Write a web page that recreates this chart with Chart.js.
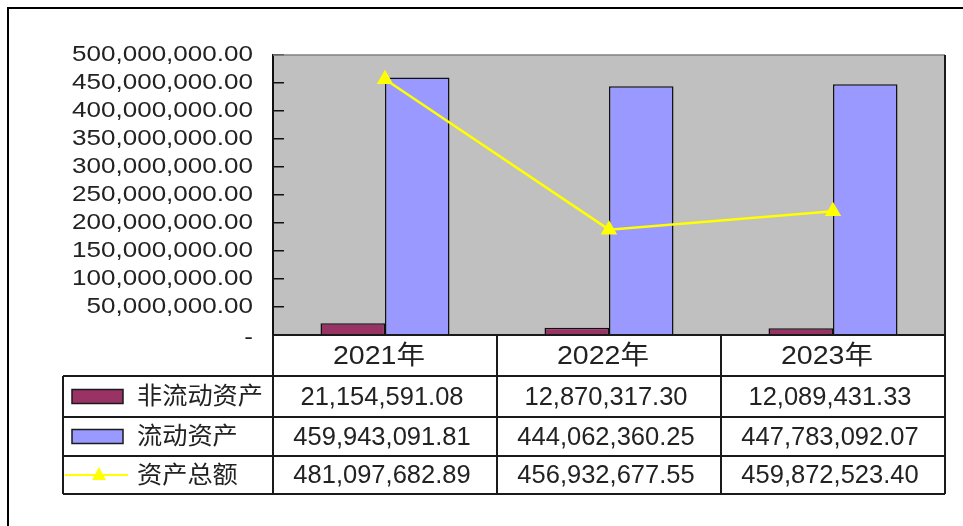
<!DOCTYPE html>
<html>
<head>
<meta charset="utf-8">
<script src="https://cdn.jsdelivr.net/npm/chart.js@4.4.1/dist/chart.umd.min.js"></script>
<style>
html, body { margin: 0; padding: 0; background: #fff; }
#wrap { position: relative; width: 963px; height: 526px; overflow: hidden; }
#frame { position: absolute; left: 7px; top: 7px; width: 1000px; height: 600px; border-left: 2px solid #000; border-top: 2px solid #000; }
canvas { position: absolute; left: 0; top: 0; }
</style>
</head>
<body>
<div id="wrap">
  <div id="frame"></div>
  <canvas id="assetChart" width="963" height="526"></canvas>
</div>
<script>
const years = ["2021年", "2022年", "2023年"];
const seriesNames = ["非流动资产", "流动资产", "资产总额"];
const nonCurrent = [21154591.08, 12870317.30, 12089431.33];
const current = [459943091.81, 444062360.25, 447783092.07];
const total = [481097682.89, 456932677.55, 459872523.40];
// left axis ticks, and the hidden axis the total line is drawn on
const leftMax = 500000000;
const leftStep = 50000000;
const totalMin = 440000000;
const totalMax = 485000000;

const colors = ["#993366", "#9999ff", "#ffff00"];
const numFont = '"Liberation Sans", Arial, sans-serif';
const cjkFont = '"Liberation Sans", "Noto Sans CJK SC", sans-serif';

function fmt(v){
    return Number(v).toLocaleString("en-US", {minimumFractionDigits: 2, maximumFractionDigits: 2});
}
function axisLabel(v){
    return v === 0 ? "-" : fmt(v);
}

const ctx = document.getElementById("assetChart");

// the excel picture has its text a bit stretched sideways
function wideText(c, text, x, y, sx){
    c.save();
    c.translate(x, y);
    c.scale(sx, 1);
    c.fillText(text, 0, 0);
    c.restore();
}

const plotAndTable = {
    id: "plotAndTable",
    beforeDraw(chart){
        const c = chart.ctx;
        const a = chart.chartArea;
        c.save();
        c.fillStyle = "#c0c0c0";
        c.fillRect(a.left, a.top, a.right - a.left, a.bottom - a.top);
        c.restore();
    },
    afterDraw(chart){
        const c = chart.ctx;
        const a = chart.chartArea;
        const x = chart.scales.x;
        const y = chart.scales.y;
        const colW = (a.right - a.left) / years.length;
        const rows = [a.bottom, a.bottom + 41, a.bottom + 82, a.bottom + 121, a.bottom + 159];
        const legendLeft = 63;

        c.save();
        // y labels
        c.fillStyle = "#222";
        c.textBaseline = "middle";
        c.textAlign = "right";
        c.font = "22px " + numFont;
        const ySx = 181 / c.measureText(axisLabel(leftMax)).width;
        y.ticks.forEach(t => {
            const py = y.getPixelForValue(t.value);
            wideText(c, axisLabel(t.value), a.left - 20, t.value === 0 ? py + 3 : py, ySx);
        });

        // plot frame
        c.strokeStyle = "#808080";
        c.lineWidth = 1.5;
        c.beginPath();
        c.moveTo(a.left, a.top);
        c.lineTo(a.right, a.top);
        c.stroke();
        c.strokeStyle = "#1a1a1a";
        c.lineWidth = 2;
        c.beginPath();
        c.moveTo(a.right, a.top);
        c.lineTo(a.right, a.bottom);
        c.stroke();

        // table grid
        c.beginPath();
        c.moveTo(a.left, rows[0]);
        c.lineTo(a.right, rows[0]);
        for(let i = 1; i < rows.length; i++){
            c.moveTo(legendLeft, rows[i]);
            c.lineTo(a.right, rows[i]);
        }
        for(let i = 0; i <= years.length; i++){
            c.moveTo(a.left + i * colW, rows[0]);
            c.lineTo(a.left + i * colW, rows[4]);
        }
        c.moveTo(legendLeft, rows[1]);
        c.lineTo(legendLeft, rows[4]);
        c.stroke();

        // header
        c.textAlign = "center";
        c.font = "26px " + cjkFont;
        const hSx = 92 / c.measureText(years[0]).width;
        years.forEach((yr, i) => wideText(c, yr, x.getPixelForValue(i) - 6, (rows[0] + rows[1]) / 2 + 1, hSx));

        // values
        const rowData = [nonCurrent, current, total];
        c.font = "25.5px " + numFont;
        rowData.forEach((list, r) => {
            const cy = (rows[r + 1] + rows[r + 2]) / 2 + 1;
            list.forEach((v, i) => c.fillText(fmt(v), x.getPixelForValue(i) - 3, cy));
        });

        // legend column
        c.textAlign = "left";
        c.font = "24px " + cjkFont;
        const lSx = 126 / c.measureText(seriesNames[0]).width;
        seriesNames.forEach((name, r) => {
            const cy = (rows[r + 1] + rows[r + 2]) / 2;
            if(r < 2){
                c.fillStyle = colors[r];
                c.fillRect(72, cy - 7, 51, 14);
                c.strokeStyle = "#1a1a1a";
                c.lineWidth = 1.5;
                c.strokeRect(72, cy - 7, 51, 14);
            }else{
                c.strokeStyle = colors[r];
                c.lineWidth = 2;
                c.beginPath();
                c.moveTo(65, cy);
                c.lineTo(128, cy);
                c.stroke();
                c.fillStyle = colors[r];
                c.beginPath();
                c.moveTo(99, cy - 8);
                c.lineTo(106, cy + 5);
                c.lineTo(92, cy + 5);
                c.closePath();
                c.fill();
            }
            c.fillStyle = "#222";
            wideText(c, name, 137, cy + 1, lSx);
        });
        c.restore();
    }
};

new Chart(ctx, {
    type: "bar",
    data: {
        labels: years,
        datasets: [
            {
                label: seriesNames[0],
                data: nonCurrent,
                backgroundColor: colors[0],
                borderColor: "#111",
                borderWidth: 1.5,
                categoryPercentage: 0.576,
                barPercentage: 1,
                order: 1
            },
            {
                label: seriesNames[1],
                data: current,
                backgroundColor: colors[1],
                borderColor: "#111",
                borderWidth: 1.5,
                categoryPercentage: 0.576,
                barPercentage: 1,
                order: 1
            },
            {
                type: "line",
                label: seriesNames[2],
                data: total,
                yAxisID: "y2",
                borderColor: colors[2],
                borderWidth: 2.5,
                pointStyle: "triangle",
                pointRadius: 7,
                pointBackgroundColor: colors[2],
                pointBorderColor: colors[2],
                order: 0
            }
        ]
    },
    options: {
        responsive: false,
        animation: false,
        layout: {
            padding: {left: 0, top: 55, right: 18, bottom: 191}
        },
        plugins: {
            legend: {display: false},
            tooltip: {enabled: false}
        },
        scales: {
            x: {
                display: false
            },
            y: {
                min: 0,
                max: leftMax,
                afterFit(scale){ scale.width = 273; },
                ticks: {
                    stepSize: leftStep,
                    autoSkip: false,
                    display: false
                },
                grid: {
                    drawOnChartArea: false,
                    tickLength: -11,
                    color: "#111",
                    lineWidth: 1.5
                },
                border: {color: "#111", width: 2}
            },
            y2: {
                display: false,
                min: totalMin,
                max: totalMax
            }
        }
    },
    plugins: [plotAndTable]
});
</script>
</body>
</html>
